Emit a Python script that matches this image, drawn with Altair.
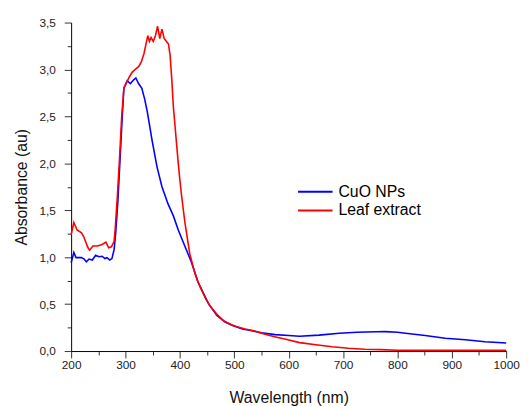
import altair as alt
import pandas as pd

# CuO NPs (blue)
cuo_nm = [200, 205, 209, 219, 224, 228, 233, 239, 245, 251, 257, 262, 266, 271, 275, 279, 282, 286,
          290, 294, 297, 303, 309, 315, 319, 324, 330, 335, 340, 349, 358, 367, 378, 388, 397, 409,
          421, 433, 443, 453, 468, 483, 498, 515, 530, 550, 575, 600, 620, 656, 693, 726, 760, 778,
          800, 815, 851, 888, 925, 961, 1000]
cuo_abs = [0.94, 1.05, 0.995, 0.995, 0.98, 0.95, 0.98, 0.97, 1.02, 1.005, 1.01, 0.985, 0.995, 0.97,
           0.985, 1.08, 1.26, 1.60, 2.05, 2.50, 2.80, 2.88, 2.85, 2.89, 2.91, 2.85, 2.80, 2.69, 2.55,
           2.24, 1.96, 1.75, 1.57, 1.44, 1.29, 1.12, 0.95, 0.74, 0.62, 0.50, 0.38, 0.31, 0.27, 0.235,
           0.22, 0.195, 0.175, 0.165, 0.158, 0.17, 0.19, 0.20, 0.205, 0.207, 0.20, 0.19, 0.165, 0.137,
           0.12, 0.10, 0.085]

# Leaf extract (red)
leaf_nm = [200, 205, 211, 219, 223, 231, 234, 240, 248, 257, 264, 269, 274, 279, 281, 285, 289, 293,
           297, 302, 307, 312, 318, 324, 329, 334, 338, 341, 344, 347, 351, 355, 359, 363, 367, 371,
           375, 379, 382, 385, 388, 391, 394, 397, 400, 403, 409, 418, 427, 433, 439, 448, 457, 470,
           481, 495, 505, 520, 534, 550, 565, 580, 595, 620, 650, 680, 710, 740, 770, 800, 850, 900,
           1000]
leaf_abs = [1.24, 1.37, 1.29, 1.26, 1.22, 1.10, 1.075, 1.12, 1.12, 1.135, 1.16, 1.10, 1.11, 1.17,
            1.30, 1.65, 2.05, 2.50, 2.80, 2.86, 2.92, 2.97, 3.00, 3.03, 3.08, 3.17, 3.28, 3.36, 3.30,
            3.34, 3.30, 3.36, 3.46, 3.33, 3.43, 3.33, 3.30, 3.27, 3.15, 2.90, 2.60, 2.40, 2.20, 2.00,
            1.82, 1.66, 1.38, 1.04, 0.84, 0.74, 0.66, 0.55, 0.47, 0.38, 0.32, 0.28, 0.26, 0.235, 0.22,
            0.19, 0.165, 0.145, 0.125, 0.09, 0.068, 0.045, 0.03, 0.02, 0.015, 0.008, 0.008, 0.008,
            0.008]

series_names = ["CuO NPs", "Leaf extract"]
series_colors = ["#0000ff", "#ff0000"]

x_major = [200, 300, 400, 500, 600, 700, 800, 900, 1000]
x_minor = [250, 350, 450, 550, 650, 750, 850, 950]
y_major = [0.0, 0.5, 1.0, 1.5, 2.0, 2.5, 3.0, 3.5]
y_minor = [0.25, 0.75, 1.25, 1.75, 2.25, 2.75, 3.25]

df = pd.concat([
    pd.DataFrame({"nm": cuo_nm, "abs": cuo_abs, "series": series_names[0]}),
    pd.DataFrame({"nm": leaf_nm, "abs": leaf_abs, "series": series_names[1]}),
], ignore_index=True)

FONT = "Liberation Sans"
xscale = alt.Scale(domain=[200, 1000], nice=False, zero=False)
yscale = alt.Scale(domain=[0, 3.5], nice=False)

common = dict(grid=False, labelFont=FONT, titleFont=FONT, labelColor="#222",
              tickColor="#333", domainColor="#000")

x_axis_major = alt.Axis(values=x_major, tickSize=7, labelFontSize=12, labelPadding=2,
                        title="Wavelength (nm)", titleFontSize=16, titleFontWeight="normal",
                        titleColor="#111", titlePadding=19, orient="bottom", format="d",
                        labelFlush=False, **common)
y_axis_major = alt.Axis(values=y_major, tickSize=7, labelFontSize=12, labelPadding=9,
                        title="Absorbance (au)", titleFontSize=16, titleFontWeight="normal",
                        titleColor="#111", titlePadding=10, orient="left",
                        labelExpr="replace(format(datum.value, '.1f'), '.', ',')", **common)

x_axis_minor = alt.Axis(values=x_minor, tickSize=4, labels=False, domain=False, title=None,
                        orient="bottom", grid=False, tickColor="#333")
y_axis_minor = alt.Axis(values=y_minor, tickSize=4, labels=False, domain=False, title=None,
                        orient="left", grid=False, tickColor="#333")

minor = alt.Chart(df).mark_line(opacity=0).encode(
    x=alt.X("nm:Q", scale=xscale, axis=x_axis_minor),
    y=alt.Y("abs:Q", scale=yscale, axis=y_axis_minor),
    detail="series:N",
)

lines = alt.Chart(df).mark_line(strokeWidth=1.6).encode(
    x=alt.X("nm:Q", scale=xscale, axis=x_axis_major),
    y=alt.Y("abs:Q", scale=yscale, axis=y_axis_major),
    color=alt.Color("series:N", sort=series_names,
                    scale=alt.Scale(domain=series_names, range=series_colors),
                    legend=alt.Legend(title=None, orient="none", legendX=229, legendY=162,
                                      symbolType="stroke", symbolSize=1225, symbolStrokeWidth=2,
                                      labelFont=FONT, labelFontSize=16, labelColor="#000",
                                      labelOffset=5, rowPadding=0, clipHeight=19)),
    order=alt.Order("nm:Q"),
)

chart = alt.layer(minor, lines).resolve_axis(x="independent", y="independent").properties(
    width=441, height=333,
    autosize=alt.AutoSizeParams(type="none"),
    padding={"left": 64, "top": 12, "right": 14, "bottom": 56},
).configure_view(stroke=None)

chart.save("out.html", embed_options={"renderer": "svg", "actions": False})
